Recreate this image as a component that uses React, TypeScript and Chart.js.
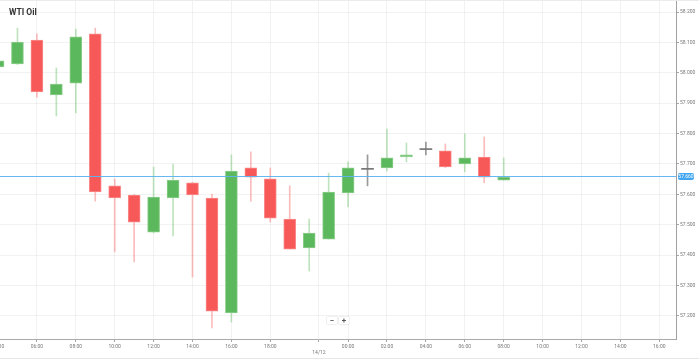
import React, { useEffect, useRef } from "react";
import { Chart, registerables } from "chart.js";

Chart.register(...registerables);

// ---- data ----
const candleIndex = [0, 1, 2, 3, 4, 5, 6, 7, 8, 9, 10, 11, 12, 13, 14, 15, 16, 17, 18, 19, 20, 21, 22, 23, 24, 25, 26];
const openValues = [58.019, 58.029, 58.108, 57.927, 57.966, 58.128, 57.628, 57.598, 57.476, 57.588, 57.638, 57.588, 57.21, 57.687, 57.651, 57.519, 57.424, 57.453, 57.605, 57.684, 57.687, 57.723, 57.749, 57.743, 57.7, 57.723, 57.647];
const highValues = [58.04, 58.147, 58.128, 58.016, 58.144, 58.147, 57.651, 57.6, 57.69, 57.7, 57.64, 57.601, 57.73, 57.74, 57.687, 57.628, 57.519, 57.67, 57.707, 57.73, 57.815, 57.769, 57.772, 57.766, 57.799, 57.789, 57.72];
const lowValues = [58.017, 58.027, 57.92, 57.858, 57.868, 57.578, 57.411, 57.378, 57.473, 57.463, 57.328, 57.161, 57.18, 57.578, 57.509, 57.42, 57.348, 57.453, 57.559, 57.628, 57.677, 57.707, 57.73, 57.688, 57.674, 57.638, 57.647];
const closeValues = [58.039, 58.101, 57.937, 57.963, 58.118, 57.608, 57.588, 57.509, 57.591, 57.647, 57.598, 57.216, 57.677, 57.657, 57.522, 57.42, 57.473, 57.608, 57.687, 57.684, 57.72, 57.73, 57.749, 57.69, 57.72, 57.657, 57.657];
const currentPrice = 57.66;

const xTickPositions = [0, 2, 4, 6, 8, 10, 12, 14, 16.5, 18, 20, 22, 24, 26, 28, 30, 32, 34];
const xTickLabels = ["04:00", "06:00", "08:00", "10:00", "12:00", "14:00", "16:00", "18:00", "14/12", "00:00", "02:00", "04:00", "06:00", "08:00", "10:00", "12:00", "14:00", "16:00"];
const yTickValues = [57.2, 57.3, 57.4, 57.5, 57.6, 57.7, 57.8, 57.9, 58.0, 58.1, 58.2];

const title = "WTI Oil";

// ---- styles ----
const GREEN = "rgb(92,184,92)";
const GREEN_EDGE = "rgb(140,206,140)";
const GREEN_WICK = "rgba(92,184,92,0.4)";
const RED = "rgb(247,88,88)";
const RED_EDGE = "rgb(250,140,140)";
const RED_WICK = "rgba(247,88,88,0.4)";
const GRAY = "rgb(120,120,120)";
const GRAY_WICK = "rgba(110,110,110,0.7)";
const DOJI_EPS = 0.0017;

const priceLinePlugin = {
  id: "priceLine",
  afterDatasetsDraw(chart: any) {
    const { ctx, chartArea, scales } = chart;
    const y = Math.round(scales.y.getPixelForValue(currentPrice)) + 0.5;
    ctx.save();
    ctx.strokeStyle = "rgba(95,180,240,0.95)";
    ctx.lineWidth = 1;
    ctx.beginPath();
    ctx.moveTo(chartArea.left, y);
    ctx.lineTo(chartArea.right, y);
    ctx.stroke();
    const bx = chartArea.right + 2;
    const bw = 16;
    const bh = 7;
    ctx.fillStyle = "rgb(66,165,240)";
    ctx.beginPath();
    (ctx as any).roundRect(bx, y - bh / 2, bw, bh, 2);
    ctx.fill();
    ctx.fillStyle = "#fff";
    ctx.font = "5px Roboto";
    ctx.textAlign = "center";
    ctx.textBaseline = "middle";
    ctx.fillText(currentPrice.toFixed(3), bx + bw / 2, y + 0.3);
    ctx.restore();
  },
};

export default function App() {
  const ref = useRef<HTMLCanvasElement | null>(null);

  useEffect(() => {
    if (!ref.current) return;
    const colorOf = (i: number) =>
      closeValues[i] > openValues[i] ? "g" : closeValues[i] < openValues[i] ? "r" : "n";
    const bodies = candleIndex.map((k, i) => {
      const o = openValues[i];
      const c = closeValues[i];
      if (o === c) return { x: k, y: [o - DOJI_EPS, o + DOJI_EPS] };
      return { x: k, y: [Math.min(o, c), Math.max(o, c)] };
    });
    const wicks = candleIndex.map((k, i) => ({ x: k, y: [lowValues[i], highValues[i]] }));
    const bodyColors = candleIndex.map((_, i) => {
      const t = colorOf(i);
      return t === "g" ? GREEN : t === "r" ? RED : GRAY;
    });
    const bodyEdges = candleIndex.map((_, i) => {
      const t = colorOf(i);
      return t === "g" ? GREEN_EDGE : t === "r" ? RED_EDGE : GRAY;
    });
    const wickColors = candleIndex.map((_, i) => {
      const t = colorOf(i);
      return t === "g" ? GREEN_WICK : t === "r" ? RED_WICK : GRAY_WICK;
    });
    const bodyBorderWidths = candleIndex.map((_, i) => (colorOf(i) === "n" ? 0 : 1));

    const chart = new Chart(ref.current, {
      type: "bar",
      data: {
        datasets: [
          {
            label: "body",
            data: bodies as any,
            backgroundColor: bodyColors,
            borderColor: bodyEdges,
            borderWidth: bodyBorderWidths,
            borderSkipped: false,
            barThickness: 12,
            grouped: false,
            order: 1,
          } as any,
          {
            label: "wick",
            data: wicks as any,
            backgroundColor: wickColors,
            borderWidth: 0,
            barThickness: 1,
            grouped: false,
            order: 2,
          } as any,
        ],
      },
      options: {
        animation: false,
        responsive: true,
        maintainAspectRatio: false,
        layout: { padding: { top: 1, left: 0, right: 0, bottom: 0 } },
        plugins: {
          legend: { display: false },
          tooltip: { enabled: false },
          title: { display: false },
        },
        scales: {
          x: {
            type: "linear",
            offset: false,
            min: -1.954,
            max: 34.86,
            afterBuildTicks: (scale: any) => {
              scale.ticks = xTickPositions.map((v) => ({ value: v }));
            },
            afterFit: (scale: any) => {
              scale.height = 21;
              scale.paddingLeft = 0;
              scale.paddingRight = 0;
            },
            grid: {
              offset: false,
              color: "rgba(0,0,0,0.05)",
              tickColor: "rgba(0,0,0,0.35)",
              tickLength: 3,
              drawOnChartArea: true,
            },
            border: { color: "rgb(170,170,170)", width: 1 },
            ticks: {
              autoSkip: false,
              maxRotation: 0,
              padding: 2,
              color: "rgb(120,120,120)",
              font: { family: "Roboto", size: 5 },
              callback: (v: any) => {
                const idx = xTickPositions.indexOf(Number(v));
                const lab = idx >= 0 ? xTickLabels[idx] : "";
                return lab.includes("/") ? ["", lab] : lab;
              },
            },
          },
          y: {
            type: "linear",
            position: "right",
            min: 57.1243,
            max: 58.2362,
            afterBuildTicks: (scale: any) => {
              scale.ticks = yTickValues.map((v) => ({ value: v }));
            },
            afterFit: (scale: any) => {
              scale.width = 23;
              scale.paddingTop = 0;
              scale.paddingBottom = 0;
            },
            grid: {
              color: "rgba(0,0,0,0.05)",
              tickColor: "rgba(0,0,0,0.35)",
              tickLength: 3,
            },
            border: { color: "rgb(160,160,160)", width: 1 },
            ticks: {
              padding: 1,
              color: "rgb(120,120,120)",
              font: { family: "Roboto", size: 5 },
              callback: (v: any) => Number(v).toFixed(3),
            },
          },
        },
      },
      plugins: [priceLinePlugin],
    });
    return () => chart.destroy();
  }, []);

  const btn: React.CSSProperties = {
    position: "absolute",
    top: 317,
    width: 10,
    height: 7,
    background: "#fff",
    boxShadow: "0 0 1px rgba(0,0,0,0.35)",
    fontFamily: "Roboto",
    fontSize: 8,
    fontWeight: 700,
    lineHeight: "7px",
    textAlign: "center",
    color: "#555",
  };

  return (
    <div style={{ position: "fixed", left: 0, top: 0, width: 699, height: 360, overflow: "hidden", background: "#fff" }}>
      <div style={{ position: "absolute", left: -40, top: 0, width: 739, height: 360 }}>
        <canvas ref={ref} />
      </div>
      <div style={{ position: "absolute", left: 0, top: 0, width: 699, height: 1, background: "rgb(235,235,235)" }} />
      <div style={{ position: "absolute", left: 0, top: 358, width: 699, height: 1, background: "rgb(230,230,230)" }} />
      <div
        style={{
          position: "absolute",
          left: 9,
          top: 7,
          fontFamily: "Roboto",
          fontWeight: 700,
          fontSize: 8.5,
          lineHeight: "10px",
          color: "#333",
          whiteSpace: "nowrap",
        }}
      >
        {title}
      </div>
      <div style={{ ...btn, left: 327 }}>−</div>
      <div style={{ ...btn, left: 339 }}>+</div>
    </div>
  );
}
